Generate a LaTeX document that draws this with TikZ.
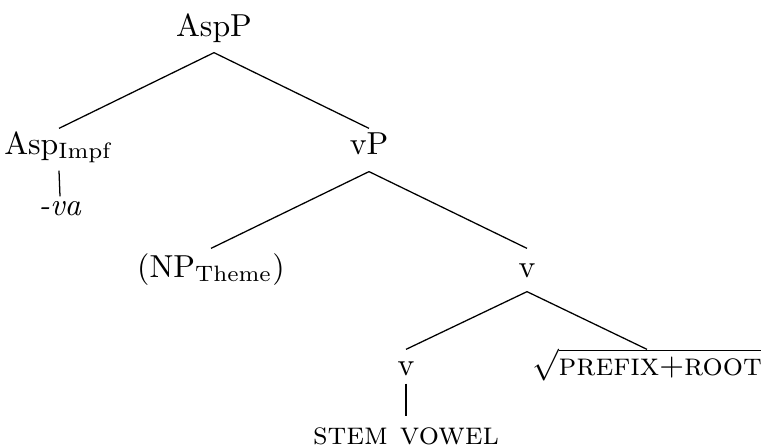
\documentclass[tikz,border=0pt]{standalone}
\usepackage{amsmath}
\begin{document}
\begin{tikzpicture}[x=0.3143pt,y=-0.3143pt,
  tn/.style={inner sep=0pt,anchor=base,font=\normalsize},
  edge/.style={draw=black,line width=0.4pt}]
\useasboundingbox (0,0) rectangle (761,447);
% nodes (baselines in px units)
\node[tn,text height=7.62pt,text depth=5.03pt] (asp) at (214,36) {AspP};
\node[tn,text height=7.86pt,text depth=5.03pt] (aspi) at (59,154) {Asp$_{\mathrm{Impf}}$};
\node[tn,text height=5.66pt,text depth=0pt] (va) at (60,215) {\textit{-va}};
\node[tn,text height=7.86pt,text depth=5.33pt] (vp) at (369,154) {vP};
\node[tn,text height=8.8pt,text depth=2.86pt] (np) at (211,277) {(NP$_{\mathrm{Theme}}$)};
\node[tn,text height=8.8pt,text depth=4.4pt] (vm) at (527,277) {v};
\node[tn,text height=7.86pt,text depth=2.51pt] (vl) at (406,375) {v};
\node[tn,text height=7.86pt,text depth=0pt] (rt) at (647,375) {$\sqrt{\textsc{prefix}{+}\textsc{root}}$};
\node[tn,text height=8.48pt,text depth=0pt] (sv) at (406,444) {\textsc{stem vowel}};
% edges
\draw[edge] (asp.south) -- (aspi.north);
\draw[edge] (asp.south) -- (vp.north);
\draw[edge] (aspi.south) -- (va.north);
\draw[edge] (vp.south) -- (np.north);
\draw[edge] (vp.south) -- (vm.north);
\draw[edge] (vm.south) -- (vl.north);
\draw[edge] (vm.south) -- (rt.north);
\draw[edge] (vl.south) -- (sv.north);
\end{tikzpicture}
\end{document}
